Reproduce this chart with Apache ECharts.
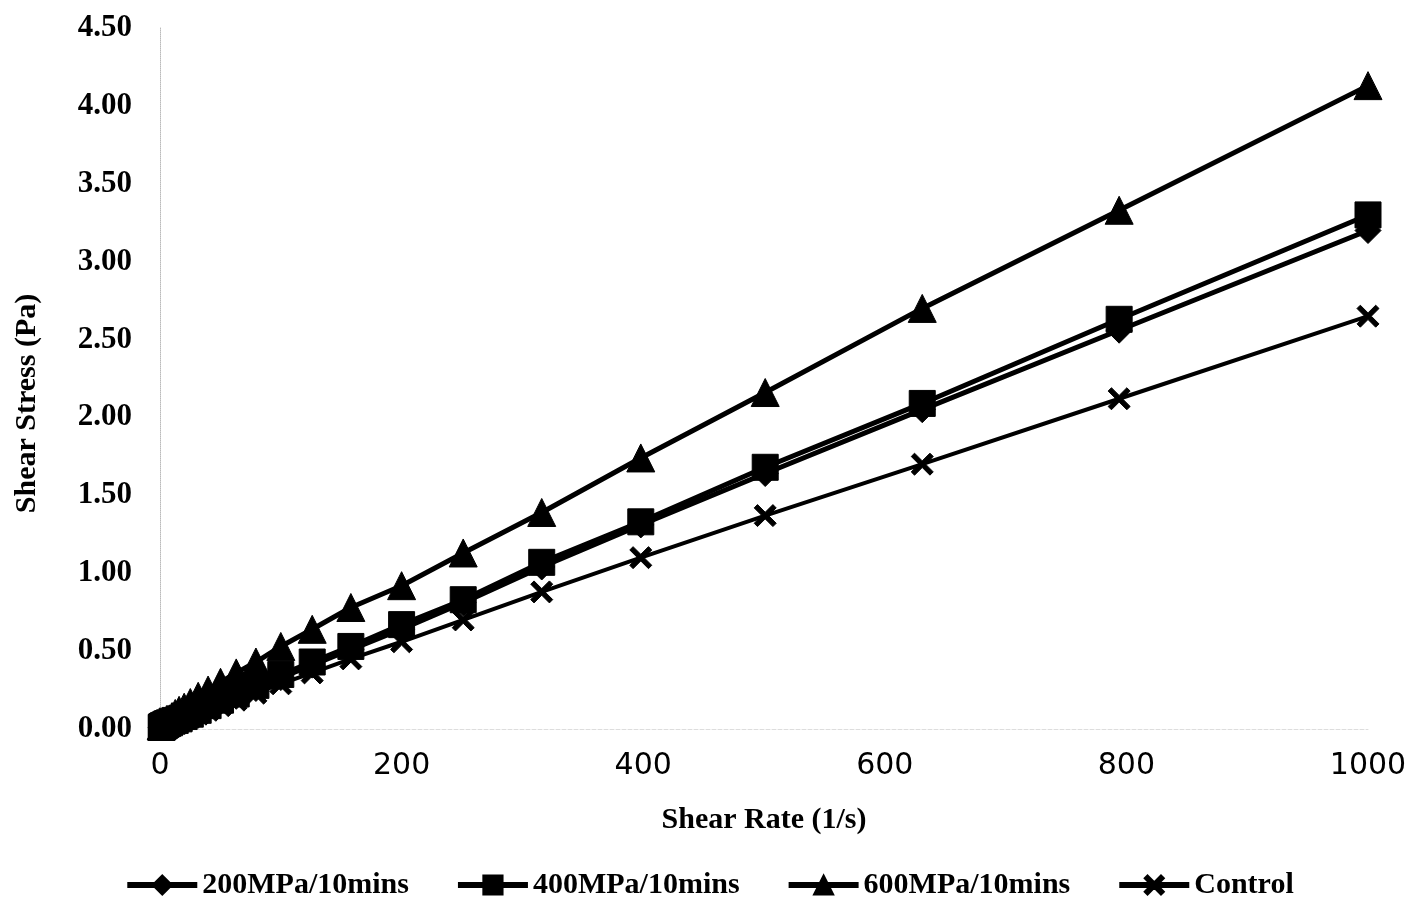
<!DOCTYPE html>
<html>
<head>
<meta charset="utf-8">
<script src="https://cdn.jsdelivr.net/npm/echarts@6/dist/echarts.min.js"></script>
<style>
html,body{margin:0;padding:0;background:#fff;}
#chart{width:1418px;height:911px;}
</style>
</head>
<body>
<div id="chart"></div>
<script>
// shear rate (1/s), log spaced
var shearRate = [1, 1.26, 1.58, 2, 2.51, 3.16, 3.98, 5.01, 6.31, 7.94,
	10, 12.6, 15.8, 20, 25.1, 31.6, 39.8, 50.1, 63.1, 79.4,
	100, 126, 158, 200, 251, 316, 398, 501, 631, 794, 1000];

var stress200 = [0.01, 0.01, 0.01, 0.015, 0.015, 0.02, 0.02, 0.025, 0.03, 0.035,
	0.045, 0.05, 0.06, 0.075, 0.09, 0.11, 0.14, 0.175, 0.21, 0.26,
	0.33, 0.41, 0.51, 0.64, 0.81, 1.04, 1.31, 1.64, 2.05, 2.56, 3.20];

var stress400 = [0.01, 0.01, 0.015, 0.015, 0.02, 0.02, 0.025, 0.03, 0.035, 0.04,
	0.05, 0.055, 0.065, 0.08, 0.095, 0.12, 0.15, 0.185, 0.225, 0.28,
	0.35, 0.43, 0.53, 0.67, 0.83, 1.07, 1.33, 1.68, 2.09, 2.63, 3.30];

var stress600 = [0.02, 0.02, 0.025, 0.03, 0.03, 0.035, 0.04, 0.045, 0.055, 0.065,
	0.08, 0.10, 0.12, 0.14, 0.17, 0.21, 0.25, 0.30, 0.36, 0.43,
	0.53, 0.64, 0.78, 0.92, 1.13, 1.39, 1.74, 2.16, 2.70, 3.33, 4.13];

var stressControl = [0.01, 0.01, 0.01, 0.01, 0.015, 0.015, 0.02, 0.02, 0.025, 0.03,
	0.035, 0.04, 0.05, 0.06, 0.075, 0.095, 0.12, 0.15, 0.185, 0.23,
	0.29, 0.36, 0.45, 0.56, 0.70, 0.88, 1.10, 1.37, 1.70, 2.12, 2.65];

var seriesNames = ['200MPa/10mins', '400MPa/10mins', '600MPa/10mins', 'Control'];

function pairs(ys) {
	return shearRate.map(function (x, i) { return [x, ys[i]]; });
}

var crossPath = 'path://M1.5,0 L5,3.5 L8.5,0 L10,1.5 L6.5,5 L10,8.5 L8.5,10 L5,6.5 L1.5,10 L0,8.5 L3.5,5 L0,1.5 Z';
var serifFont = '"Liberation Serif","DejaVu Serif",serif';

var chart = echarts.init(document.getElementById('chart'));

function lineSeries(name, ys, symbol, size, w) {
	return {
		name: name,
		type: 'line',
		data: pairs(ys),
		symbol: symbol,
		symbolSize: size,
		showAllSymbol: true,
		lineStyle: { color: '#000', width: w },
		itemStyle: { color: '#000', borderColor: '#000', borderWidth: 1 },
		emphasis: { disabled: true },
		animation: false
	};
}

chart.setOption({
	backgroundColor: '#fff',
	grid: {
		left: 160,
		right: 50,
		top: 28,
		bottom: 182
	},
	legend: {
		bottom: 6,
		left: 'center',
		itemWidth: 70,
		itemHeight: 24,
		itemGap: 46,
		lineStyle: { width: 6 },
		textStyle: {
			fontFamily: serifFont,
			fontWeight: 'bold',
			fontSize: 30,
			color: '#000'
		},
		data: seriesNames
	},
	//x轴
	xAxis: {
		type: 'value',
		min: 0,
		max: 1000,
		interval: 200,
		name: 'Shear Rate (1/s)',
		nameLocation: 'middle',
		nameGap: 76,
		nameTextStyle: {
			fontFamily: serifFont,
			fontWeight: 'bold',
			fontSize: 30,
			color: '#000'
		},
		axisLine: { show: true, lineStyle: { color: '#ddd', type: 'dashed', width: 1 } },
		axisTick: { show: false },
		splitLine: { show: false },
		axisLabel: {
			margin: 22,
			fontFamily: '"DejaVu Sans","Liberation Sans",sans-serif',
			fontSize: 30,
			color: '#000',
			formatter: function (v) { return String(v); }
		}
	},
	//y轴
	yAxis: {
		type: 'value',
		min: 0,
		max: 4.5,
		interval: 0.5,
		name: 'Shear Stress (Pa)',
		nameLocation: 'middle',
		nameGap: 118,
		nameTextStyle: {
			fontFamily: serifFont,
			fontWeight: 'bold',
			fontSize: 30,
			color: '#000',
			padding: [0, 50, 0, 0]
		},
		axisLine: { show: true, lineStyle: { color: '#bbb', type: 'dotted', width: 1 } },
		axisTick: { show: false },
		splitLine: { show: false },
		axisLabel: {
			margin: 28,
			fontFamily: serifFont,
			fontWeight: 'bold',
			fontSize: 31,
			color: '#000',
			formatter: function (v) { return v.toFixed(2); }
		}
	},
	series: [
		lineSeries(seriesNames[0], stress200, 'diamond', 26, 5),
		lineSeries(seriesNames[1], stress400, 'rect', 26, 5),
		lineSeries(seriesNames[2], stress600, 'triangle', 28, 5),
		lineSeries(seriesNames[3], stressControl, crossPath, 22, 4)
	]
});
</script>
</body>
</html>
